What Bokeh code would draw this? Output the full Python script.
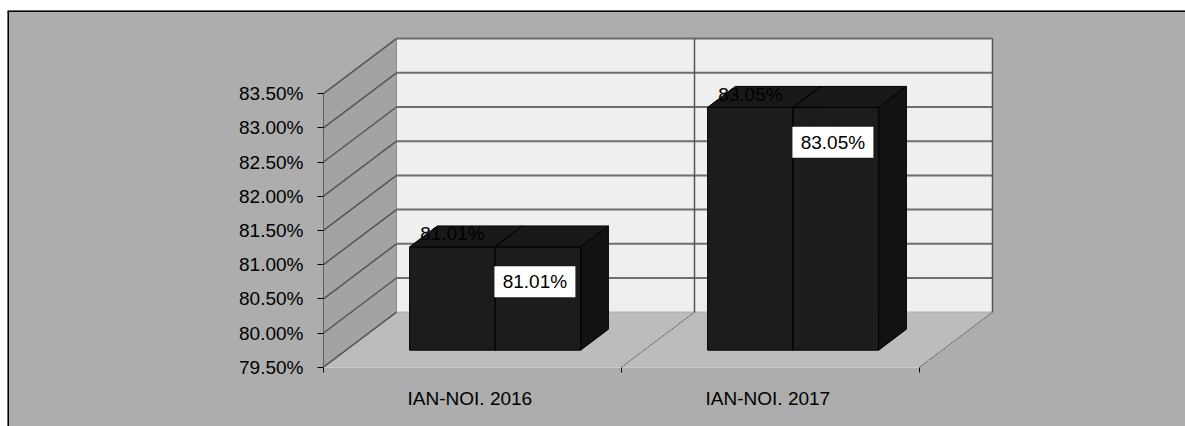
from bokeh.plotting import figure
from bokeh.models import (FixedTicker, PrintfTickFormatter, LinearAxis, Range1d,
                          ColumnDataSource, Span)
from bokeh.core.properties import value
from bokeh.embed import file_html
from bokeh.resources import INLINE

# ---- data ----
categories = ["IAN-NOI.  2016", "IAN-NOI.  2017"]
values = [81.01, 83.05]
value_labels = ["81.01%", "83.05%"]
y_ticks = [79.5, 80.0, 80.5, 81.0, 81.5, 82.0, 82.5, 83.0, 83.5]

# ---- layout constants (pixels) ----
W, H = 1185, 426
TOP, LEFT = 10, 7
FW, FH = W - LEFT, H - TOP     # frame size
AX_PX, AY_PX = 316.0, 356.7    # axis origin inside frame
SX, SY = 298.0, 68.4           # px per category / px per 1 %
DXPX, DYPX = 73.0, 55.0        # 3D depth offset in px
FONT = "Liberation Sans"
FS = "19px"

y0, y1 = y_ticks[0], y_ticks[-1]
n = len(categories)
DX, DY = DXPX / SX, DYPX / SY

xr = Range1d(-AX_PX / SX, (FW - AX_PX) / SX)
yr = Range1d(y0 - (FH - AY_PX) / SY, y0 + AY_PX / SY)
p = figure(width=W, height=H, output_backend="svg", toolbar_location=None,
           x_range=xr, y_range=yr,
           x_axis_location=None, y_axis_location=None,
           min_border_left=LEFT, min_border_right=0, min_border_top=TOP,
           min_border_bottom=0)
p.background_fill_color = "#adadad"
p.border_fill_color = "white"
p.outline_line_color = None
p.grid.visible = False

# chart-area border (top and left; right/bottom run off the page)
p.add_layout(Span(location=yr.end, dimension="width", line_color="black", line_width=3))
p.add_layout(Span(location=xr.start, dimension="height", line_color="black", line_width=3))

# walls and floor
p.patch([0, 0, DX, DX], [y0, y1, y1 + DY, y0 + DY], fill_color="#a3a3a3",
        line_color="#8c8c8c", line_width=1)
p.patch([DX, n + DX, n + DX, DX], [y0 + DY, y0 + DY, y1 + DY, y1 + DY],
        fill_color="#efefef", line_color="#8a8a8a", line_width=1)
p.patch([0, n, n + DX, DX], [y0, y0, y0 + DY, y0 + DY], fill_color="#bcbcbc",
        line_color=None)

# gridlines on back wall and side wall
bx, by, sx_, sy_ = [], [], [], []
for t in y_ticks[1:]:
    bx.append([DX, n + DX]); by.append([t + DY, t + DY])
for t in y_ticks:
    sx_.append([0, DX]); sy_.append([t, t + DY])
p.multi_line(bx, by, line_color="#6e6e6e", line_width=2)
p.multi_line(sx_, sy_, line_color="#555555", line_width=1.5)
# category dividers on back wall and floor
p.multi_line([[i + DX, i + DX] for i in range(1, n + 1)],
             [[y0 + DY, y1 + DY] for i in range(1, n + 1)],
             line_color="#555555", line_width=1.5)
p.multi_line([[i, i + DX] for i in range(1, n + 1)],
             [[y0, y0 + DY] for i in range(1, n + 1)],
             line_color="#555555", line_width=1, line_dash="2 1")

# bars
F0, F1 = 0.31, 0.69
HW = 0.287
bar_cx = [i + 0.5 + F0 * DX for i in range(n)]
bar_top = [v + F0 * DY for v in values]
yb = y0 + F0 * DY
ddx, ddy = (F1 - F0) * DX, (F1 - F0) * DY

pxs, pys, pcol = [], [], []
for c, yt in zip(bar_cx, bar_top):
    for l, r in ((c - HW, c), (c, c + HW)):
        pxs.append([l, r, r, l]); pys.append([yb, yb, yt, yt]); pcol.append("#1c1c1c")
        pxs.append([l, r, r + ddx, l + ddx]); pys.append([yt, yt, yt + ddy, yt + ddy]); pcol.append("#181818")
        pxs.append([r, r + ddx, r + ddx, r]); pys.append([yb, yb + ddy, yt + ddy, yt]); pcol.append("#121212")
p.patches(xs="xs", ys="ys", fill_color="c", line_color="black", line_width=1,
          source=ColumnDataSource(dict(xs=pxs, ys=pys, c=pcol)))

# outside labels (sit on the bar tops)
p.text(x=[c - HW / 2 for c in bar_cx], y=bar_top, text=value_labels,
       text_font=value(FONT), text_font_size=FS, text_color="black",
       text_align="center", text_baseline="alphabetic", y_offset=-13)

# boxed labels
lx = [c + HW / 2 - 3 / SX for c in bar_cx]
ly = [t - 35 / SY for t in bar_top]
p.rect(x=lx, y=ly, width=81, height=31, width_units="screen",
       height_units="screen", fill_color="white", line_color=None)
p.text(x=lx, y=ly, text=value_labels, text_font=value(FONT), text_font_size=FS,
       text_color="black", text_align="center", text_baseline="middle")

# axes
yaxis = LinearAxis(fixed_location=0, ticker=FixedTicker(ticks=y_ticks),
                   formatter=PrintfTickFormatter(format="%.2f%%"), bounds=(y0, y1))
yaxis.axis_line_color = "#606060"
yaxis.major_tick_line_color = "black"
yaxis.major_tick_out = 6
yaxis.major_tick_in = 0
yaxis.minor_tick_line_color = None
yaxis.major_label_standoff = 14
yaxis.major_label_text_font = FONT
yaxis.major_label_text_font_size = FS
yaxis.major_label_text_color = "black"
p.add_layout(yaxis, "left")

xaxis = LinearAxis(fixed_location=y0,
                   ticker=FixedTicker(ticks=[i + 0.5 for i in range(n)],
                                      minor_ticks=list(range(n + 1))),
                   major_label_overrides={i + 0.5: c for i, c in enumerate(categories)},
                   bounds=(0, n))
xaxis.axis_line_color = "#c8c8c8"
xaxis.major_tick_line_color = None
xaxis.minor_tick_line_color = "black"
xaxis.minor_tick_out = 5
xaxis.minor_tick_in = 0
xaxis.major_label_standoff = 15
xaxis.major_label_text_font = FONT
xaxis.major_label_text_font_size = FS
xaxis.major_label_text_color = "black"
p.add_layout(xaxis, "below")

open("out.html", "w").write(file_html(p, INLINE))
